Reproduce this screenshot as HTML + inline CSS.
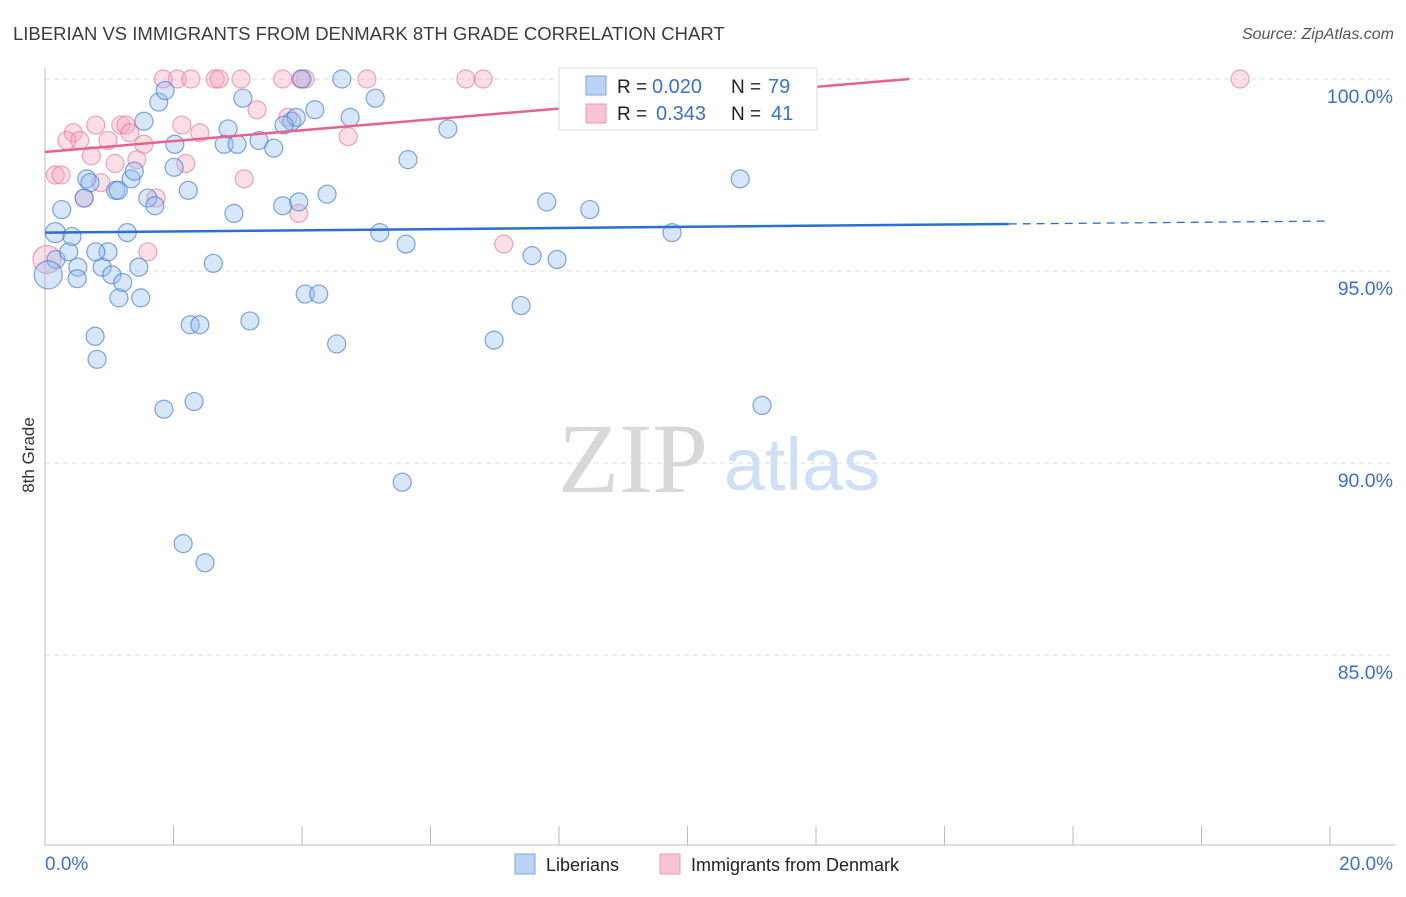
<!DOCTYPE html>
<html><head><meta charset="utf-8"><style>
body{margin:0;background:#fff;font-family:"Liberation Sans",sans-serif;}
svg text{font-family:"Liberation Sans",sans-serif;}
svg text.serif{font-family:"Liberation Serif",serif;}
</style></head><body>
<svg width="1406" height="892">
<text x="13" y="40" font-size="18.5" fill="#3c3c3c">LIBERIAN VS IMMIGRANTS FROM DENMARK 8TH GRADE CORRELATION CHART</text>
<text x="1394" y="39" font-size="16" fill="#555" text-anchor="end" font-style="italic">Source: ZipAtlas.com</text>
<text transform="translate(34,455) rotate(-90)" font-size="17" fill="#333" text-anchor="middle">8th Grade</text>
<g id="grid"></g>
<g id="wm"><text class="serif" x="633" y="492" font-size="100" fill="#d8d8d8" text-anchor="middle">ZIP</text><text x="802" y="490" font-size="74" fill="#cfe0f5" text-anchor="middle">atlas</text></g>
<g id="pts"></g>
<g id="lines"></g>
<g id="legend">
<rect x="559" y="68" width="258" height="62" fill="#fff" stroke="#ddd"/>
<rect x="586" y="76" width="20" height="19" fill="#b9d2f5" stroke="#7ea6e6"/>
<rect x="586" y="104" width="20" height="19" fill="#f8c3d2" stroke="#ee9ab4"/>
<text x="617" y="93" font-size="19" fill="#222">R =</text>
<text x="652" y="93" font-size="20" fill="#3a70d0">0.020</text>
<text x="731" y="93" font-size="19" fill="#222">N =</text>
<text x="768" y="93" font-size="20" fill="#3a70d0">79</text>
<text x="617" y="120" font-size="19" fill="#222">R =</text>
<text x="656" y="120" font-size="20" fill="#3a70d0">0.343</text>
<text x="731" y="120" font-size="19" fill="#222">N =</text>
<text x="771" y="120" font-size="20" fill="#3a70d0">41</text>
</g>
<g>
<rect x="515" y="854" width="20" height="20" fill="#b9d2f5" stroke="#7ea6e6"/>
<text x="546" y="871" font-size="18" fill="#222">Liberians</text>
<rect x="660" y="854" width="20" height="20" fill="#f8c3d2" stroke="#ee9ab4"/>
<text x="691" y="871" font-size="18" fill="#222">Immigrants from Denmark</text>
</g>
</svg>
<script>
const yTicks=[100,95,90,85];
const xTickLabels=["0.0%","20.0%"];
const blueX=[0.16,0.26,0.17,0.37,0.42,0.05,0.51,0.5,0.65,0.7,0.61,0.78,0.81,0.89,0.98,1.04,1.15,1.21,1.28,1.34,1.39,1.1,1.46,1.49,1.54,1.6,1.71,1.77,1.87,1.85,2.02,2.01,2.23,2.15,2.26,2.41,2.32,2.49,2.62,2.79,2.85,2.94,2.99,3.08,3.19,3.33,3.56,3.7,3.84,3.91,3.95,4.0,4.05,4.26,4.2,4.39,4.54,4.62,4.75,5.14,5.21,5.56,5.62,5.65,6.27,6.99,7.41,7.58,7.81,7.97,8.48,9.76,10.82,11.16,3.72,1.14,0.79];
const blueY=[96.0,96.6,95.3,95.5,95.9,94.9,95.1,94.8,97.4,97.3,96.9,93.3,92.7,95.1,95.5,94.9,94.3,94.7,96.0,97.4,97.6,97.1,95.1,94.3,98.9,96.9,96.7,99.4,99.7,91.4,98.3,97.7,97.1,87.9,93.6,93.6,91.6,87.4,95.2,98.3,98.7,96.5,98.3,99.5,93.7,98.4,98.2,96.7,98.9,99.0,96.8,100.0,94.4,94.4,99.2,97.0,93.1,100.0,99.0,99.5,96.0,89.5,95.7,97.9,98.7,93.2,94.1,95.4,96.8,95.3,96.6,96.0,97.4,91.5,98.8,97.1,95.5];
const blueR=[10,9,9,9,9,14,9,9,9,9,9,9,9,9,9,9,9,9,9,9,9,9,9,9,9,9,9,9,9,9,9,9,9,9,9,9,9,9,9,9,9,9,9,9,9,9,9,9,9,9,9,9,9,9,9,9,9,9,9,9,9,9,9,9,9,9,9,9,9,9,9,9,9,9,9,9,9];
const pinkX=[1.84,2.06,2.27,2.65,2.71,3.05,3.7,4.05,5.01,6.55,6.82,18.6,3.98,3.3,3.78,4.72,2.41,2.13,0.44,0.34,0.54,0.79,0.98,1.18,1.26,1.32,1.54,0.72,1.09,1.43,2.19,0.16,0.25,0.87,0.61,1.73,3.1,3.95,1.6,7.14,0.03];
const pinkY=[100,100,100,100,100,100,100,100,100,100,100,100,100,99.2,99.0,98.5,98.6,98.8,98.6,98.4,98.4,98.8,98.4,98.8,98.8,98.6,98.3,98.0,97.8,97.9,97.8,97.5,97.5,97.3,96.9,96.9,97.4,96.5,95.5,95.7,95.3];
const blueTrend=[96.0,96.3];
const pinkTrend=[98.1,100.0];
const X0=45,X1=1330;
const sx=v=>X0+(X1-X0)*v/20;
const sy=v=>79+(100-v)*38.4;
const NS="http://www.w3.org/2000/svg";
function mk(t,a,p){const e=document.createElementNS(NS,t);for(const k in a)e.setAttribute(k,a[k]);p.appendChild(e);return e;}
const g=document.getElementById('grid');
yTicks.forEach(t=>{
 const l=mk('line',{x1:X0,x2:1395,y1:sy(t),y2:sy(t),stroke:'#ddd','stroke-dasharray':'5,4'},g);
 
 
 const tx=mk('text',{x:1393,y:sy(t)+24,'font-size':19.5,fill:'#3a70d0','text-anchor':'end'},g);
 tx.textContent=t.toFixed(1)+'%';
 
 
});
const ax=mk('line',{x1:X0,x2:X0,y1:68,y2:845,stroke:'#bbb'},g);


const bx=mk('line',{x1:X0,x2:1395,y1:845,y2:845,stroke:'#bbb'},g);


for(let i=0;i<=10;i++){const tk=mk('line',{x1:sx(i*2),x2:sx(i*2),y1:826,y2:845,stroke:'#bbb'},g);
 
 }
[[0,'start',45],[1,'end',1393]].forEach(([i,a,x])=>{const t=mk('text',{x:x,y:870,'font-size':19,fill:'#3a70d0','text-anchor':a},g);t.textContent=xTickLabels[i];
 
 });
const p=document.getElementById('pts');
pinkX.forEach((x,i)=>{const c=mk('circle',{cx:sx(x),cy:sy(pinkY[i]),r:i==pinkX.length-1?14:9,fill:'rgba(245,160,185,0.35)',stroke:'rgba(232,120,155,0.65)','stroke-width':1.2},p);
 
 });
blueX.forEach((x,i)=>{const c=mk('circle',{cx:sx(x),cy:sy(blueY[i]),r:blueR[i],fill:'rgba(150,190,240,0.38)',stroke:'rgba(60,120,210,0.65)','stroke-width':1.2},p);
 
 });
const L=document.getElementById('lines');
const bAt=x=>blueTrend[0]+(blueTrend[1]-blueTrend[0])*x/20;
const b1=mk('line',{x1:sx(0),y1:sy(bAt(0)),x2:sx(15),y2:sy(bAt(15)),stroke:'#2a6fd6','stroke-width':2.5},L);


const b2=mk('line',{x1:sx(15),y1:sy(bAt(15)),x2:sx(20),y2:sy(bAt(20)),stroke:'#2a6fd6','stroke-width':1.3,'stroke-dasharray':'8,6'},L);


const pAt=x=>pinkTrend[0]+(pinkTrend[1]-pinkTrend[0])*x/20;
const pl=mk('line',{x1:sx(0),y1:sy(pAt(0)),x2:sx(13.45),y2:sy(100),stroke:'#e8628e','stroke-width':2.5},L);


</script>
</body></html>
